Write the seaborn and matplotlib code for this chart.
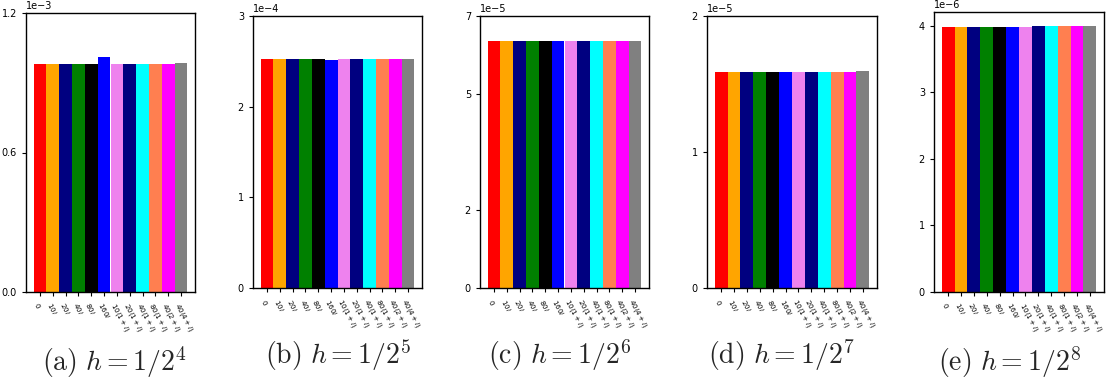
import numpy as np
import pandas as pd
import matplotlib
matplotlib.use("Agg")
import matplotlib.pyplot as plt
import seaborn as sns

sns.set_style("ticks")
plt.rcParams["font.family"] = ["DejaVu Sans"]
plt.rcParams["mathtext.fontset"] = "dejavusans"

categories = ["$0$", "$10i$", "$20i$", "$40i$", "$80i$", "$160i$",
              "$10(1+i)$", "$20(1+i)$", "$40(1+i)$", "$80(1+i)$",
              "$40(2+i)$", "$40(4+i)$"]
colors = ["red", "orange", "navy", "green", "black", "blue",
          "violet", "navy", "cyan", "coral", "magenta", "gray"]

vals_a = [0.980e-3, 0.980e-3, 0.980e-3, 0.980e-3, 0.980e-3, 1.010e-3,
          0.980e-3, 0.980e-3, 0.980e-3, 0.980e-3, 0.980e-3, 0.985e-3]
vals_b = [2.52e-4, 2.52e-4, 2.52e-4, 2.52e-4, 2.52e-4, 2.508e-4,
          2.52e-4, 2.52e-4, 2.52e-4, 2.52e-4, 2.52e-4, 2.52e-4]
vals_c = [6.34e-5] * 12
vals_d = [1.589e-5, 1.589e-5, 1.589e-5, 1.589e-5, 1.589e-5, 1.589e-5,
          1.589e-5, 1.589e-5, 1.589e-5, 1.589e-5, 1.589e-5, 1.595e-5]
vals_e = [3.980e-6, 3.980e-6, 3.980e-6, 3.980e-6, 3.980e-6, 3.980e-6,
          3.980e-6, 3.993e-6, 3.993e-6, 3.993e-6, 3.993e-6, 3.993e-6]

series = [vals_a, vals_b, vals_c, vals_d, vals_e]
yticks = [[0, 0.6e-3, 1.2e-3], [0, 1e-4, 2e-4, 3e-4], [0, 2e-5, 5e-5, 7e-5],
          [0, 1e-5, 2e-5], [0, 1e-6, 2e-6, 3e-6, 4e-6]]
ylims = [1.2e-3, 3e-4, 7e-5, 2e-5, 4.2e-6]
captions = [r"$\mathrm{(a)}\ h = 1/2^4$", r"$\mathrm{(b)}\ h = 1/2^5$",
            r"$\mathrm{(c)}\ h = 1/2^6$", r"$\mathrm{(d)}\ h = 1/2^7$",
            r"$\mathrm{(e)}\ h = 1/2^8$"]

W, H = 1106, 386
# axes boxes in pixels: left, right, top, bottom
boxes = [(26, 195, 13, 292), (253, 422, 15.7, 288.3), (480, 649, 15.7, 288.3),
         (707, 877, 15.7, 288.3), (934, 1104, 12.3, 292)]
cap_pos = [(114, 362), (338, 355), (560, 355), (781, 355), (1010, 362)]

fig = plt.figure(figsize=(W / 100, H / 100), dpi=100)
for i, vals in enumerate(series):
    l, r, t, b = boxes[i]
    ax = fig.add_axes([l / W, 1 - b / H, (r - l) / W, (b - t) / H])
    df = pd.DataFrame({"cat": categories, "val": vals})
    sns.barplot(data=df, x="cat", y="val", hue="cat", palette=colors,
                width=1.0, saturation=1, legend=False, ax=ax,
                linewidth=0, edgecolor="none")
    ax.set_ylim(0, ylims[i])
    ax.set_yticks(yticks[i])
    ax.ticklabel_format(axis="y", style="sci", scilimits=(0, 0))
    ax.yaxis.get_offset_text().set_fontsize(7)
    ax.set_xlabel("")
    ax.set_ylabel("")
    ax.tick_params(axis="both", labelsize=7, length=3, width=0.8, colors="black")
    ax.set_xticks(range(len(categories)))
    ax.set_xticklabels(categories, rotation=-62, ha="left",
                       rotation_mode="anchor", fontsize=5.1)
    for s in ax.spines.values():
        s.set_visible(True)
        s.set_color("black")
        s.set_linewidth(1.0)
    ax.set_xlim(-1.1, 12.1)
    cx, cy = cap_pos[i]
    fig.text(cx / W, 1 - cy / H, captions[i], ha="center", va="center",
             fontsize=20, math_fontfamily="cm")

fig.savefig("out.png", dpi=100)
